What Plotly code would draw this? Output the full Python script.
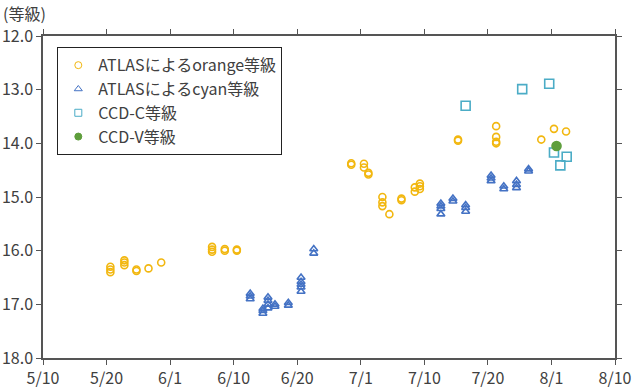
import plotly.graph_objects as go

# x values: days after 5/10 on the chart's axis scale (axis ticks every 10 units)
tick_vals = [0, 10, 20, 30, 40, 50, 60, 70, 80, 90]
tick_text = ["5/10", "5/20", "6/1", "6/10", "6/20", "7/1", "7/10", "7/20", "8/1", "8/10"]

orange_x = [10.6, 10.6, 10.6, 12.8, 12.8, 12.8, 14.7, 14.7, 16.6, 18.6,
            26.6, 26.6, 26.6, 28.6, 28.6, 30.5, 30.5,
            48.5, 48.5, 50.5, 50.5, 51.2, 51.2, 53.4, 53.4, 53.4, 54.5,
            56.4, 56.4, 58.5, 58.5, 59.3, 59.3, 59.3, 65.3, 65.3,
            71.3, 71.3, 71.3, 71.3, 78.4, 80.4, 82.3]
orange_y = [16.30, 16.35, 16.40, 16.18, 16.22, 16.27, 16.35, 16.38, 16.33, 16.22,
            15.93, 15.98, 16.02, 15.97, 16.00, 15.98, 16.00,
            14.37, 14.40, 14.38, 14.45, 14.55, 14.58, 15.00, 15.10, 15.17, 15.32,
            15.03, 15.06, 14.82, 14.90, 14.75, 14.80, 14.85, 13.93, 13.95,
            13.68, 13.88, 13.97, 14.00, 13.93, 13.73, 13.78]

cyan_x = [32.6, 32.6, 32.6, 34.6, 34.6, 34.6, 35.4, 35.4, 35.4, 35.4,
          36.5, 36.5, 38.6, 38.6, 40.6, 40.6, 40.6, 40.6, 40.6, 42.6, 42.6,
          62.6, 62.6, 62.6, 62.6, 64.5, 64.5, 66.5, 66.5, 66.5,
          70.5, 70.5, 70.5, 72.5, 72.5, 74.5, 74.5, 74.5, 76.4, 76.4]
cyan_y = [16.80, 16.85, 16.90, 17.08, 17.12, 17.17, 16.87, 16.93, 17.00, 17.07,
          17.00, 17.04, 16.97, 17.02, 16.50, 16.58, 16.63, 16.68, 16.76, 15.97, 16.05,
          15.12, 15.17, 15.22, 15.32, 15.03, 15.08, 15.15, 15.20, 15.27,
          14.60, 14.65, 14.70, 14.80, 14.85, 14.70, 14.77, 14.83, 14.48, 14.52]

ccdc_x = [66.5, 75.4, 79.65, 80.4, 81.4, 82.4]
ccdc_y = [13.30, 12.99, 12.89, 14.17, 14.41, 14.25]

ccdv_x = [80.8]
ccdv_y = [14.05]

names = ["ATLASによるorange等級", "ATLASによるcyan等級", "CCD-C等級", "CCD-V等級"]
colors = ["#F2B70F", "#4472C4", "#4BACC6", "#5E9E3C"]
symbols = ["circle-open", "triangle-up-open", "square-open", "circle"]

font_family = "Noto Sans CJK JP, Noto Sans, sans-serif"
text_color = "#404040"

fig = go.Figure()
data_sets = [(orange_x, orange_y, 7), (cyan_x, cyan_y, 7), (ccdc_x, ccdc_y, 9), (ccdv_x, ccdv_y, 9)]
for i, (xs, ys, sz) in enumerate(data_sets):
    fig.add_trace(go.Scatter(x=xs, y=ys, mode="markers", name=names[i], showlegend=False,
                             marker=dict(symbol=symbols[i], size=sz, color=colors[i],
                                         line=dict(width=1.6, color=colors[i]))))
# legend entries (thin, small markers as in the reference legend)
for i in range(4):
    fig.add_trace(go.Scatter(x=[None], y=[None], mode="markers", name=names[i],
                             legendgroup=f"g{i}",
                             marker=dict(symbol=symbols[i], size=7, color=colors[i],
                                         line=dict(width=1, color=colors[i]))))

fig.update_layout(
    width=640, height=391,
    margin=dict(l=43, r=25, t=36, b=33),
    paper_bgcolor="white", plot_bgcolor="white",
    font=dict(family=font_family, size=16, color=text_color),
    showlegend=True,
    legend=dict(x=0.025, y=0.965, xanchor="left", yanchor="top",
                bordercolor="#222222", borderwidth=1, bgcolor="white",
                font=dict(size=16, color=text_color),
                traceorder="grouped", tracegroupgap=0,
                entrywidth=290, entrywidthmode="pixels"),
    annotations=[dict(text="(等級)", x=0, y=1, xref="paper", yref="paper",
                      xanchor="left", yanchor="bottom", xshift=-42, yshift=9,
                      showarrow=False, font=dict(size=16, color=text_color))],
)
fig.update_xaxes(range=[0, 90], tickvals=tick_vals, ticktext=tick_text, automargin=False,
                 showgrid=False, zeroline=False, showline=True, linecolor="#555555",
                 linewidth=1.5, mirror="ticks", ticks="outside", ticklen=5,
                 tickcolor="#555555", tickfont=dict(size=16, color=text_color))
fig.update_yaxes(range=[18, 12], dtick=1, tick0=12, tickformat=".1f", automargin=False,
                 showgrid=False, zeroline=False, showline=True, linecolor="#555555",
                 linewidth=1.5, mirror="ticks", ticks="outside", ticklen=5,
                 tickcolor="#555555", tickfont=dict(size=16, color=text_color))

fig.write_html("out.html", config={"displayModeBar": False},
               post_script="document.body.style.margin='0';")
